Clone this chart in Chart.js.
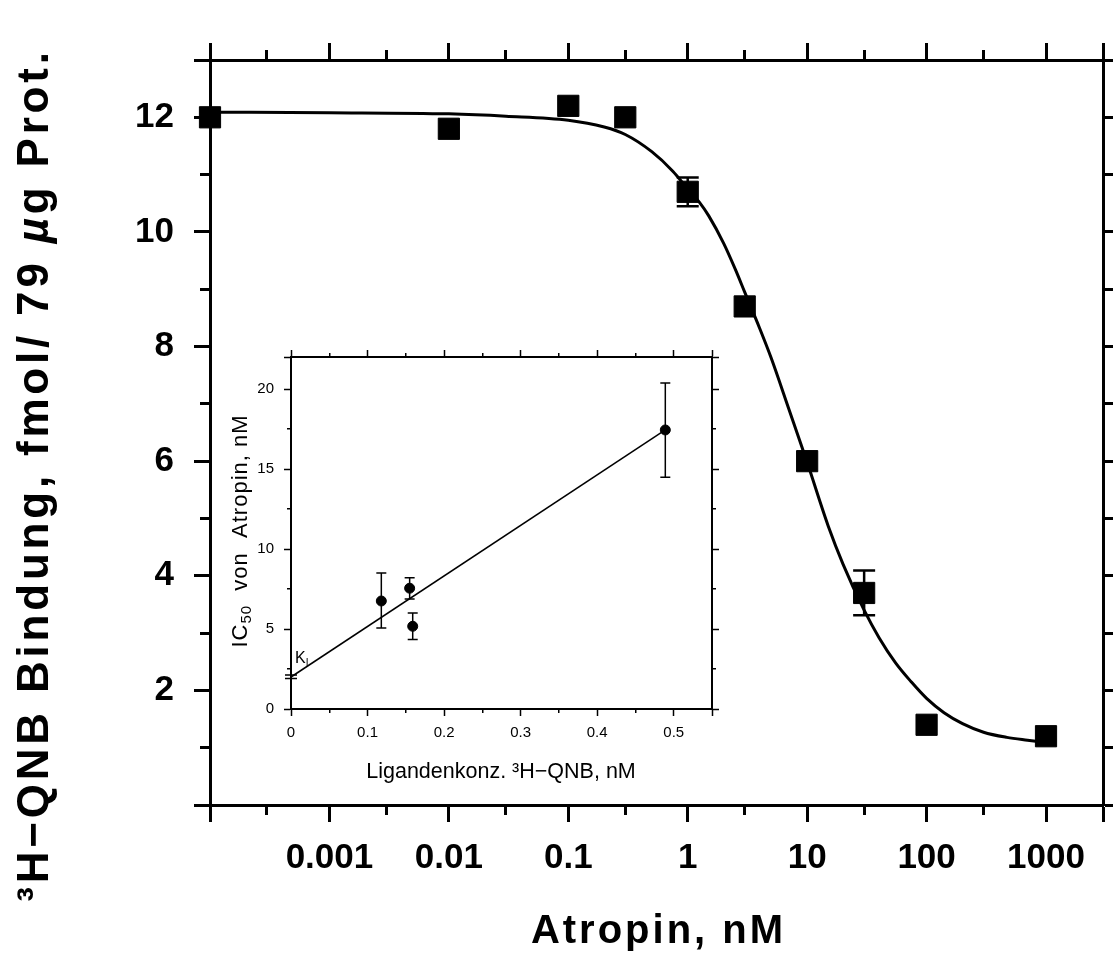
<!DOCTYPE html>
<html>
<head>
<meta charset="utf-8">
<script src="https://cdn.jsdelivr.net/npm/chart.js@4.4.1/dist/chart.umd.min.js"></script>
<style>
  html, body { margin: 0; padding: 0; background: #fff; }
  #wrap { position: relative; width: 1113px; height: 965px; overflow: hidden; }
  #main { position: absolute; left: 0; top: 0; }
  #inset { position: absolute; left: 180px; top: 330px; }
</style>
</head>
<body>
<div id="wrap">
  <canvas id="main" width="1113" height="965"></canvas>
  <canvas id="inset" width="580" height="470"></canvas>
</div>
<script>
// ---- Main panel: displacement of 3H-QNB binding by atropine ----
const atropinConc = [0.0001, 0.01, 0.1, 0.3, 1, 3, 10, 30, 100, 1000];
const boundQNB    = [12.0, 11.8, 12.2, 12.0, 10.7, 8.7, 6.0, 3.7, 1.4, 1.2];
const boundErr    = [0, 0, 0, 0, 0.25, 0, 0, 0.39, 0, 0];

// fitted displacement curve
const fitConc  = [0.0001, 0.001, 0.01, 0.03, 0.1, 0.2, 0.3, 0.5, 0.75, 1, 1.25, 1.5, 2, 2.5, 3, 4, 5, 7, 10, 15, 20, 30, 40, 55, 75, 100, 140, 200, 300, 470, 700, 1000];
const fitBound = [12.09, 12.08, 12.06, 12.02, 11.95, 11.83, 11.70, 11.40, 11.06, 10.75, 10.52, 10.28, 9.80, 9.35, 8.95, 8.32, 7.80, 6.92, 5.98, 4.87, 4.20, 3.40, 2.92, 2.48, 2.14, 1.86, 1.61, 1.42, 1.27, 1.18, 1.13, 1.09];

// main axis ticks
const xMajorTicks = [0.0001, 0.001, 0.01, 0.1, 1, 10, 100, 1000, 3000];
const xTickLabels = ['', '0.001', '0.01', '0.1', '1', '10', '100', '1000', ''];
const xMinorTicks = [0.0003, 0.003, 0.03, 0.3, 3, 30, 300];
const yMajorTicks = [0, 2, 4, 6, 8, 10, 12, 13];
const yTickLabels = ['', '2', '4', '6', '8', '10', '12', ''];
const yMinorTicks = [1, 3, 5, 7, 9, 11];

const mainXTitle = 'Atropin, nM';
// y title pieces: [text, italic?]
const mainYTitleParts = [
  ['\u00B3H\u2212QNB Bindung, fmol/ 79 ', false],
  ['\u00B5', true],
  ['g Prot.', false]
];

// ---- Inset: IC50 of atropine vs. ligand concentration ----
const ligandConc = [0.118, 0.155, 0.159, 0.489];
const ic50       = [6.75, 7.55, 5.17, 17.44];
const ic50Low    = [5.07, 6.88, 4.34, 14.48];
const ic50High   = [8.50, 8.21, 6.00, 20.37];
const regressionX = [0, 0.489];
const regressionY = [2.0, 17.44];
const kiMarks = [1.9, 2.12];

const insetXMajor  = [0, 0.1, 0.2, 0.3, 0.4, 0.5, 0.55];
const insetXLabels = ['0', '0.1', '0.2', '0.3', '0.4', '0.5', ''];
const insetXMinor  = [0.05, 0.15, 0.25, 0.35, 0.45];
const insetYMajor  = [0, 5, 10, 15, 20, 22];
const insetYLabels = ['0', '5', '10', '15', '20', ''];
const insetYMinor  = [2.5, 7.5, 12.5, 17.5];

const SANS = '"Liberation Sans", Arial, Helvetica, sans-serif';

function align(pixel, width) {
  const half = width / 2;
  return Math.round(pixel - half) + half;
}

// fixed box size for a scale, without extra label overhang padding
function fixSize(prop, value) {
  return s => {
    s[prop] = value;
    s.paddingLeft = 0; s.paddingRight = 0; s.paddingTop = 0; s.paddingBottom = 0;
  };
}

// short outward ticks for the minor positions
function minorTicksPlugin(spec) {
  return {
    id: 'minorTicks',
    afterDraw(chart) {
      const ctx = chart.ctx;
      ctx.save();
      ctx.strokeStyle = '#000';
      spec.forEach(s => {
        const sc = chart.scales[s.scale];
        const pos = sc.options.position;
        ctx.lineWidth = s.width;
        ctx.beginPath();
        s.values.forEach(v => {
          const p = align(sc.getPixelForValue(v), s.width);
          if (pos === 'bottom') { ctx.moveTo(p, sc.top); ctx.lineTo(p, sc.top + s.len); }
          else if (pos === 'top') { ctx.moveTo(p, sc.bottom); ctx.lineTo(p, sc.bottom - s.len); }
          else if (pos === 'left') { ctx.moveTo(sc.right, p); ctx.lineTo(sc.right - s.len, p); }
          else { ctx.moveTo(sc.left, p); ctx.lineTo(sc.left + s.len, p); }
        });
        ctx.stroke();
      });
      ctx.restore();
    }
  };
}

// vertical error bars with caps, drawn just before the marker dataset
function errorBarsPlugin(datasetIndex, low, high, capHalf, width) {
  return {
    id: 'errorBars',
    beforeDatasetDraw(chart, args) {
      if (args.index !== datasetIndex) return;
      const meta = chart.getDatasetMeta(datasetIndex);
      const ys = chart.scales.y;
      const ctx = chart.ctx;
      ctx.save();
      ctx.strokeStyle = '#000';
      ctx.lineWidth = width;
      ctx.beginPath();
      meta.data.forEach((pt, i) => {
        if (high[i] === low[i]) return;
        const yTop = ys.getPixelForValue(high[i]);
        const yBot = ys.getPixelForValue(low[i]);
        ctx.moveTo(pt.x, yTop); ctx.lineTo(pt.x, yBot);
        ctx.moveTo(pt.x - capHalf, yTop); ctx.lineTo(pt.x + capHalf, yTop);
        ctx.moveTo(pt.x - capHalf, yBot); ctx.lineTo(pt.x + capHalf, yBot);
      });
      ctx.stroke();
      ctx.restore();
    }
  };
}

// ---------------- main chart ----------------
const mainLow  = boundQNB.map((v, i) => v - boundErr[i]);
const mainHigh = boundQNB.map((v, i) => v + boundErr[i]);

const mainTitles = {
  id: 'mainTitles',
  afterDraw(chart) {
    const ctx = chart.ctx, a = chart.chartArea;
    ctx.save();
    ctx.fillStyle = '#000';
    ctx.textAlign = 'center';
    ctx.textBaseline = 'middle';
    ctx.font = 'bold 40px ' + SANS;
    if ('letterSpacing' in ctx) ctx.letterSpacing = '3px';
    ctx.fillText(mainXTitle, (a.left + a.right) / 2 + 2, 932);

    // rotated y title, laid out piece by piece
    ctx.translate(36, 475);
    ctx.rotate(-Math.PI / 2);
    ctx.textAlign = 'left';
    if ('letterSpacing' in ctx) ctx.letterSpacing = '3.8px';
    const fontFor = it => (it ? 'italic ' : '') + 'bold 44px ' + SANS;
    const widths = mainYTitleParts.map(([t, it]) => { ctx.font = fontFor(it); return ctx.measureText(t).width; });
    let x = -widths.reduce((s, w) => s + w, 0) / 2;
    mainYTitleParts.forEach(([t, it], i) => {
      ctx.font = fontFor(it);
      ctx.fillText(t, x, 0);
      x += widths[i];
    });
    ctx.restore();
  }
};

const whiteBg = {
  id: 'whiteBg',
  beforeDraw(chart) {
    const ctx = chart.ctx;
    ctx.save();
    ctx.fillStyle = '#fff';
    ctx.fillRect(0, 0, chart.width, chart.height);
    ctx.restore();
  }
};

const mainGrid = { display: true, drawOnChartArea: false, drawTicks: true, tickColor: '#000', tickLength: 17, tickWidth: 3 };
const mainBorder = { display: true, color: '#000', width: 3 };
const mainTickFont = { family: SANS, size: 35, weight: 'bold' };

new Chart(document.getElementById('main'), {
  type: 'scatter',
  data: {
    datasets: [
      {
        data: fitConc.map((x, i) => ({ x, y: fitBound[i] })),
        showLine: true, borderColor: '#000', borderWidth: 3,
        pointRadius: 0, cubicInterpolationMode: 'monotone', clip: false, order: 2
      },
      {
        data: atropinConc.map((x, i) => ({ x, y: boundQNB[i] })),
        showLine: false, pointStyle: 'rect', pointRadius: 15,
        backgroundColor: '#000', borderColor: '#000', borderWidth: 1, clip: false, order: 1
      }
    ]
  },
  options: {
    responsive: false, animation: false, devicePixelRatio: 1,
    layout: { padding: 0, autoPadding: false },
    plugins: { legend: { display: false }, tooltip: { enabled: false } },
    scales: {
      x: {
        type: 'logarithmic', position: 'bottom', min: 0.0001, max: 3000,
        afterFit: fixSize('height', 160),
        afterBuildTicks: s => { s.ticks = xMajorTicks.map(v => ({ value: v })); },
        ticks: {
          autoSkip: false, maxRotation: 0, color: '#000', padding: 15,
          font: mainTickFont,
          callback: (v, i) => xTickLabels[i]
        },
        grid: mainGrid, border: mainBorder
      },
      x2: {
        type: 'logarithmic', position: 'top', min: 0.0001, max: 3000,
        afterFit: fixSize('height', 60),
        afterBuildTicks: s => { s.ticks = xMajorTicks.map(v => ({ value: v })); },
        ticks: { display: false },
        grid: mainGrid, border: mainBorder
      },
      y: {
        type: 'linear', position: 'left', min: 0, max: 13,
        afterFit: fixSize('width', 210),
        afterBuildTicks: s => { s.ticks = yMajorTicks.map(v => ({ value: v })); },
        ticks: {
          autoSkip: false, color: '#000', padding: 20,
          font: mainTickFont,
          callback: (v, i) => yTickLabels[i]
        },
        grid: Object.assign({}, mainGrid, { tickLength: 16 }), border: mainBorder
      },
      y2: {
        type: 'linear', position: 'right', min: 0, max: 13,
        afterFit: fixSize('width', 10),
        afterBuildTicks: s => { s.ticks = yMajorTicks.map(v => ({ value: v })); },
        ticks: { display: false },
        grid: Object.assign({}, mainGrid, { tickLength: 16 }), border: mainBorder
      }
    }
  },
  plugins: [
    whiteBg,
    errorBarsPlugin(1, mainLow, mainHigh, 11, 2.5),
    minorTicksPlugin([
      { scale: 'x', values: xMinorTicks, len: 10, width: 3 },
      { scale: 'x2', values: xMinorTicks, len: 10, width: 3 },
      { scale: 'y', values: yMinorTicks, len: 10, width: 3 },
      { scale: 'y2', values: yMinorTicks, len: 10, width: 3 }
    ]),
    mainTitles
  ]
});

// ---------------- inset chart ----------------
const insetTitles = {
  id: 'insetTitles',
  afterDraw(chart) {
    const ctx = chart.ctx;
    const xs = chart.scales.x, ys = chart.scales.y;
    ctx.save();
    ctx.fillStyle = '#000';
    ctx.strokeStyle = '#000';

    // x title
    ctx.textAlign = 'center';
    ctx.textBaseline = 'middle';
    ctx.font = '21.5px ' + SANS;
    ctx.fillText('Ligandenkonz. \u00B3H\u2212QNB, nM', 321, 442);

    // y title with subscript 50
    ctx.save();
    ctx.translate(59, 201);
    ctx.rotate(-Math.PI / 2);
    ctx.textAlign = 'left';
    ctx.textBaseline = 'alphabetic';
    if ('letterSpacing' in ctx) ctx.letterSpacing = '1px';
    const big = '22px ' + SANS, small = '15px ' + SANS;
    const p1 = 'IC', p2 = '50', p3 = '  von  Atropin, nM';
    ctx.font = big; const w1 = ctx.measureText(p1).width, w3 = ctx.measureText(p3).width;
    ctx.font = small; const w2 = ctx.measureText(p2).width;
    const x0 = -(w1 + w2 + w3) / 2;
    ctx.font = big; ctx.fillText(p1, x0, 8);
    ctx.font = small; ctx.fillText(p2, x0 + w1, 12);
    ctx.font = big; ctx.fillText(p3, x0 + w1 + w2, 8);
    ctx.restore();

    // K_I marker on the y axis
    const ax = xs.getPixelForValue(0);
    ctx.lineWidth = 1.5;
    ctx.beginPath();
    kiMarks.forEach(v => {
      const p = ys.getPixelForValue(v);
      ctx.moveTo(ax - 6, p); ctx.lineTo(ax + 6, p);
    });
    ctx.stroke();
    ctx.textAlign = 'left';
    ctx.textBaseline = 'alphabetic';
    ctx.font = '16px ' + SANS;
    const kx = ax + 4, ky = ys.getPixelForValue(2.85);
    ctx.fillText('K', kx, ky);
    const kw = ctx.measureText('K').width;
    ctx.font = '10px ' + SANS;
    ctx.fillText('I', kx + kw, ky + 3);
    ctx.restore();
  }
};

const insetAxisGrid = { display: true, drawOnChartArea: false, drawTicks: true, tickColor: '#000', tickLength: 7, tickWidth: 1.5 };
const insetBorder = { display: true, color: '#000', width: 2 };
const insetTickFont = { family: SANS, size: 15 };

new Chart(document.getElementById('inset'), {
  type: 'scatter',
  data: {
    datasets: [
      {
        data: regressionX.map((x, i) => ({ x, y: regressionY[i] })),
        showLine: true, borderColor: '#000', borderWidth: 1.5, pointRadius: 0, clip: false, order: 2
      },
      {
        data: ligandConc.map((x, i) => ({ x, y: ic50[i] })),
        showLine: false, pointStyle: 'circle', pointRadius: 5,
        backgroundColor: '#000', borderColor: '#000', borderWidth: 1, clip: false, order: 1
      }
    ]
  },
  options: {
    responsive: false, animation: false, devicePixelRatio: 1,
    layout: { padding: 0, autoPadding: false },
    plugins: { legend: { display: false }, tooltip: { enabled: false } },
    scales: {
      x: {
        type: 'linear', position: 'bottom', min: 0, max: 0.55,
        afterFit: fixSize('height', 91),
        afterBuildTicks: s => { s.ticks = insetXMajor.map(v => ({ value: v })); },
        ticks: {
          autoSkip: false, maxRotation: 0, color: '#000', padding: 8,
          font: insetTickFont,
          callback: (v, i) => insetXLabels[i]
        },
        grid: insetAxisGrid, border: insetBorder
      },
      x2: {
        type: 'linear', position: 'top', min: 0, max: 0.55,
        afterFit: fixSize('height', 27),
        afterBuildTicks: s => { s.ticks = insetXMajor.map(v => ({ value: v })); },
        ticks: { display: false },
        grid: insetAxisGrid, border: insetBorder
      },
      y: {
        type: 'linear', position: 'left', min: 0, max: 22,
        afterFit: fixSize('width', 111),
        afterBuildTicks: s => { s.ticks = insetYMajor.map(v => ({ value: v })); },
        ticks: {
          autoSkip: false, color: '#000', padding: 10,
          font: insetTickFont,
          callback: (v, i) => insetYLabels[i]
        },
        grid: insetAxisGrid, border: insetBorder
      },
      y2: {
        type: 'linear', position: 'right', min: 0, max: 22,
        afterFit: fixSize('width', 48),
        afterBuildTicks: s => { s.ticks = insetYMajor.map(v => ({ value: v })); },
        ticks: { display: false },
        grid: insetAxisGrid, border: insetBorder
      }
    }
  },
  plugins: [
    errorBarsPlugin(1, ic50Low, ic50High, 5, 1.5),
    minorTicksPlugin([
      { scale: 'x', values: insetXMinor, len: 4, width: 1.5 },
      { scale: 'x2', values: insetXMinor, len: 4, width: 1.5 },
      { scale: 'y', values: insetYMinor, len: 4, width: 1.5 },
      { scale: 'y2', values: insetYMinor, len: 4, width: 1.5 }
    ]),
    insetTitles
  ]
});
</script>
</body>
</html>
